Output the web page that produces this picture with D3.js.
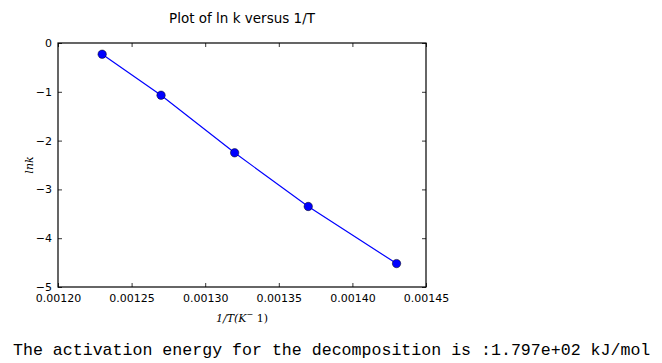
<!DOCTYPE html>
<html>
<head>
<meta charset="utf-8" />
<title>Plot of ln k versus 1/T</title>
<script src="https://cdn.jsdelivr.net/npm/d3@7"></script>
<style>
	html, body { margin: 0; background: #fff; }
	#chart { width: 662px; height: 363px; }
	.tick text { font-family: "DejaVu Sans", sans-serif; font-size: 11px; }
</style>
</head>
<body>
<div id="chart"></div>
<script>
	var invT = [0.00123, 0.00127, 0.00132, 0.00137, 0.00143];
	var lnk = [-0.23, -1.07, -2.25, -3.35, -4.52];
	var xTicks = [0.00120, 0.00125, 0.00130, 0.00135, 0.00140, 0.00145];
	var yTicks = [0, -1, -2, -3, -4, -5];

	var svg = d3.select('#chart').append('svg')
		.attr('width', 662).attr('height', 363);

	// plot box (note: "top" is taken by window.top, so prefix these)
	var pLeft = 58, pRight = 426, pTop = 43, pBottom = 287;
	var x = d3.scaleLinear().domain([0.00120, 0.00145]).range([pLeft, pRight]);
	var y = d3.scaleLinear().domain([-5, 0]).range([pBottom, pTop]);

	// ticks on all four sides, pointing inward
	svg.append('g').attr('transform', 'translate(0,' + pBottom + ')')
		.call(d3.axisBottom(x).tickValues(xTicks).tickSize(-4).tickPadding(7).tickFormat(d3.format('.5f')))
		.call(g => g.select('.domain').remove());
	svg.append('g').attr('transform', 'translate(0,' + pTop + ')')
		.call(d3.axisTop(x).tickValues(xTicks).tickSize(-4).tickFormat(''))
		.call(g => g.select('.domain').remove());
	svg.append('g').attr('transform', 'translate(' + pLeft + ',0)')
		.call(d3.axisLeft(y).tickValues(yTicks).tickSize(-4).tickPadding(6).tickFormat(d => d < 0 ? '\u2212' + Math.abs(d) : d))
		.call(g => g.select('.domain').remove());
	svg.append('g').attr('transform', 'translate(' + pRight + ',0)')
		.call(d3.axisRight(y).tickValues(yTicks).tickSize(-4).tickFormat(''))
		.call(g => g.select('.domain').remove());

	svg.selectAll('.tick line').attr('stroke', '#000').attr('stroke-width', 0.8);
	svg.selectAll('.tick text').attr('fill', '#000');

	svg.append('rect')
		.attr('x', pLeft).attr('y', pTop)
		.attr('width', pRight - pLeft).attr('height', pBottom - pTop)
		.attr('fill', 'none').attr('stroke', '#000').attr('stroke-width', 1.2);

	var pts = invT.map((v, i) => [v, lnk[i]]);
	svg.append('path')
		.datum(pts)
		.attr('d', d3.line().x(d => x(d[0])).y(d => y(d[1])))
		.attr('fill', 'none').attr('stroke', '#0000ff').attr('stroke-width', 1.2);
	svg.selectAll('circle').data(pts).enter()
		.append('circle')
		.attr('cx', d => x(d[0])).attr('cy', d => y(d[1]))
		.attr('r', 4.2)
		.attr('fill', '#0000ff').attr('stroke', '#000').attr('stroke-width', 0.5);

	svg.append('text')
		.attr('x', (pLeft + pRight) / 2).attr('y', 23)
		.attr('text-anchor', 'middle')
		.style('font-family', '"DejaVu Sans", sans-serif').style('font-size', '13.5px')
		.text('Plot of ln k versus 1/T');

	var xl = svg.append('text')
		.attr('x', (pLeft + pRight) / 2).attr('y', 322)
		.attr('text-anchor', 'middle')
		.style('font-family', '"DejaVu Serif", serif').style('font-style', 'italic').style('font-size', '11px');
	xl.append('tspan').text('1/T(K');
	xl.append('tspan').attr('dy', -5).style('font-size', '8px').text('\u2212');
	xl.append('tspan').attr('dy', 5).style('font-style', 'normal').text(' 1)');

	svg.append('text')
		.attr('transform', 'translate(33,' + (pTop + pBottom) / 2 + ') rotate(-90)')
		.attr('text-anchor', 'middle')
		.style('font-family', '"DejaVu Serif", serif').style('font-style', 'italic').style('font-size', '11px')
		.text('lnk');

	svg.append('text')
		.attr('x', 13).attr('y', 355)
		.style('font-family', '"Liberation Mono", monospace').style('font-size', '16.6px')
		.text('The activation energy for the decomposition is :1.797e+02 kJ/mol');
</script>
</body>
</html>
